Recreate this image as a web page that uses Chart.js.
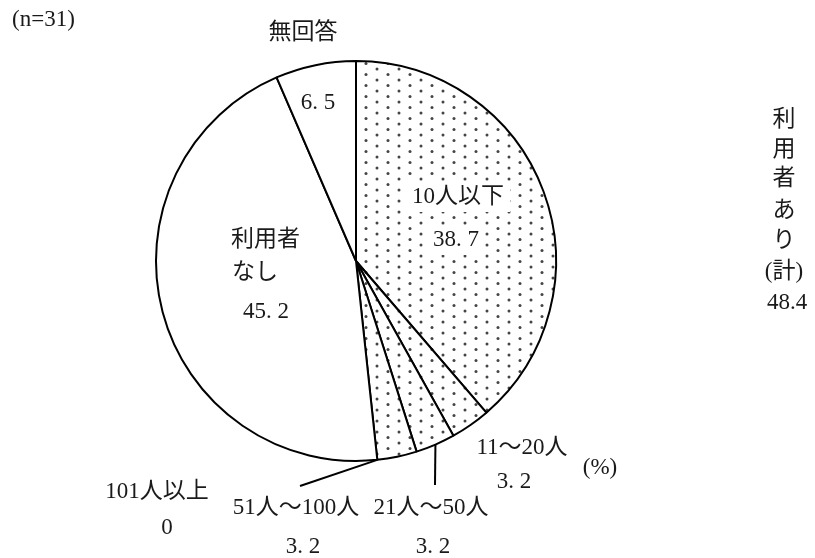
<!DOCTYPE html>
<html>
<head>
<meta charset="utf-8">
<script src="https://cdn.jsdelivr.net/npm/chart.js@4"></script>
<style>
  html, body { margin: 0; padding: 0; background: #fff; }
  #wrap { width: 815px; height: 558px; position: relative; }
</style>
</head>
<body>
<div id="wrap"><canvas id="myChart"></canvas></div>
<script>
// データ
const categories = ["10人以下", "11～20人", "21人～50人", "51人～100人", "101人以上", "利用者なし", "無回答"];
const values = [38.7, 3.2, 3.2, 3.2, 0, 45.2, 6.5];
const valueText = ["38. 7", "3. 2", "3. 2", "3. 2", "0", "45. 2", "6. 5"];
const usedGroup = [true, true, true, true, true, false, false]; // 利用者あり
const usedTotalLabel = ["利", "用", "者", "あ", "り", "(計)", "48.4"];
const sampleLabel = "(n=31)";

const FONT = '"Liberation Serif", "Noto Sans CJK JP", serif';

// 網掛け（ドット）パターン
function dotPattern() {
  const c = document.createElement("canvas");
  c.width = 22;
  c.height = 11;
  const g = c.getContext("2d");
  g.fillStyle = "#fff";
  g.fillRect(0, 0, 22, 11);
  g.fillStyle = "#444";
  [[3, 3], [14, 8.5]].forEach(function (p) {
    g.beginPath();
    g.arc(p[0], p[1], 1.5, 0, Math.PI * 2);
    g.fill();
  });
  return g.createPattern(c, "repeat");
}

const ctx = document.getElementById("myChart").getContext("2d");
const dots = dotPattern();

// ラベル描画
const labelPlugin = {
  id: "labels",
  afterDatasetsDraw(chart) {
    const c = chart.ctx;
    const arcs = chart.getDatasetMeta(0).data;
    const cx = arcs[0].x, cy = arcs[0].y, r = arcs[0].outerRadius;

    function onArc(i) {
      const a = (arcs[i].startAngle + arcs[i].endAngle) / 2;
      return [cx + r * Math.cos(a), cy + r * Math.sin(a)];
    }

    c.save();
    // 引き出し線
    c.strokeStyle = "#000";
    c.lineWidth = 2;
    [[2, 79, 224], [4, -56, 225]].forEach(function (l) {
      const p = onArc(l[0]);
      c.beginPath();
      c.moveTo(p[0], p[1]);
      c.lineTo(cx + l[1], cy + l[2]);
      c.stroke();
    });

    c.font = "23px " + FONT;
    c.fillStyle = "#1a1a1a";
    c.textBaseline = "middle";
    c.textAlign = "center";

    function txt(s, dx, dy, bg) {
      const x = cx + dx, y = cy + dy;
      if (bg) {
        const w = c.measureText(s).width;
        c.fillStyle = "#fff";
        c.fillRect(x - w / 2 - 6, y - 15, w + 12, 30);
        c.fillStyle = "#1a1a1a";
      }
      c.fillText(s, x, y);
    }

    txt(categories[6], -53, -228);
    txt(valueText[6], -38, -158);
    txt(categories[0], 102, -64, true);
    txt(valueText[0], 100, -21, true);
    txt(categories[1], 166, 187);
    txt(valueText[1], 158, 221);
    txt("(%)", 244, 207);
    txt(categories[2], 75, 247);
    txt(valueText[2], 77, 286);
    txt(categories[3], -60, 247);
    txt(valueText[3], -53, 286);
    txt(categories[4], -199, 231);
    txt(valueText[4], -189, 267);
    txt(valueText[5], -90, 51);

    c.textAlign = "left";
    const none = categories[5];
    c.fillText(none.slice(0, 3), cx - 125, cy - 21);
    c.fillText(none.slice(3), cx - 124, cy + 12);

    c.fillText(sampleLabel, 12, 20);

    c.textAlign = "center";
    const ys = [120, 150, 179, 211, 241, 272, 303];
    usedTotalLabel.forEach(function (s, i) {
      c.fillText(s, i === 6 ? 787 : 784, ys[i]);
    });
    c.restore();
  },
};

const config = {
  type: "pie",
  data: {
    labels: categories,
    datasets: [
      {
        data: values,
        backgroundColor: usedGroup.map(function (u) { return u ? dots : "#fff"; }),
        borderColor: "#000",
        borderWidth: 2,
      },
    ],
  },
  options: {
    responsive: true,
    maintainAspectRatio: false,
    animation: false,
    radius: 200,
    layout: {
      padding: { left: 156, right: 259, top: 61, bottom: 97 },
    },
    plugins: {
      legend: { display: false },
      tooltip: { enabled: false },
    },
  },
  plugins: [labelPlugin],
};

const myChart = new Chart(ctx, config);
</script>
</body>
</html>
